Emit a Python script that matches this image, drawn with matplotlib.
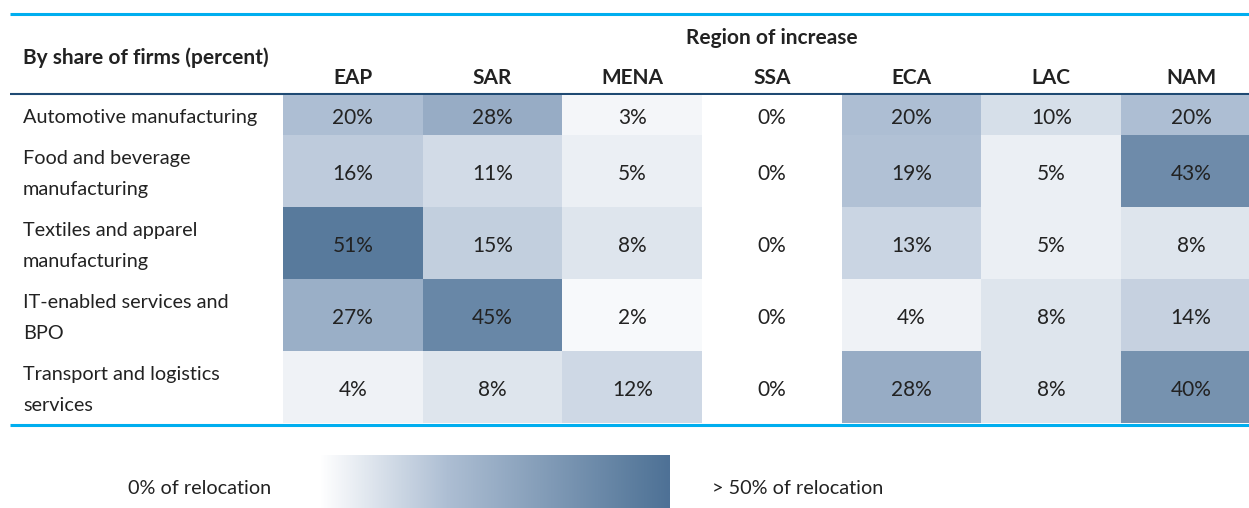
import matplotlib.pyplot as plt
import numpy as np
from matplotlib.colors import LinearSegmentedColormap

plt.rcParams['font.family'] = ['Lato', 'DejaVu Sans']

regions = ["EAP", "SAR", "MENA", "SSA", "ECA", "LAC", "NAM"]
sectors = ["Automotive manufacturing",
           "Food and beverage\nmanufacturing",
           "Textiles and apparel\nmanufacturing",
           "IT-enabled services and\nBPO",
           "Transport and logistics\nservices"]

eap = [20, 16, 51, 27, 4]
sar = [28, 11, 15, 45, 8]
mena = [3, 5, 8, 2, 12]
ssa = [0, 0, 0, 0, 0]
eca = [20, 19, 13, 4, 28]
lac = [10, 5, 5, 8, 8]
nam = [20, 43, 8, 14, 40]

vals = np.array([eap, sar, mena, ssa, eca, lac, nam]).T

vmax = 55
cmap = LinearSegmentedColormap.from_list(
    "rel", [(0, "#ffffff"), (20 / vmax, "#adbed3"),
            (51 / vmax, "#587a9c"), (1, "#4e7196")])
txt = "#222222"
W, H = 1249, 508

fig = plt.figure(figsize=(W / 100, H / 100), dpi=100)

# background axes in pixel units for rules and free text
bg = fig.add_axes([0, 0, 1, 1])
bg.set_xlim(0, W)
bg.set_ylim(H, 0)
bg.axis("off")

# heatmap axes: rows of unequal height (first row is single-line)
x0, cw = 283, 139.7
y0, y1 = 95, 423
hm = fig.add_axes([x0 / W, 1 - y1 / H, len(regions) * cw / W, (y1 - y0) / H])
row_h = np.array([40, 72, 72, 72, 72])
yedges = np.concatenate([[0], np.cumsum(row_h)])
xedges = np.arange(len(regions) + 1)
hm.pcolormesh(xedges, yedges, vals, cmap=cmap, vmin=0, vmax=vmax)
hm.set_xlim(0, len(regions))
hm.set_ylim(yedges[-1], 0)
hm.axis("off")
ycent = (yedges[:-1] + yedges[1:]) / 2
for i in range(len(sectors)):
    for j in range(len(regions)):
        hm.text(j + 0.5, ycent[i] + 3, f"{vals[i, j]}%", ha="center", va="center",
                fontsize=15, color=txt)

# row labels
for i, s in enumerate(sectors):
    bg.text(23, y0 + ycent[i] + 3, s, ha="left", va="center", fontsize=14.3,
            color=txt, linespacing=2.05)

# column headers
for j, r in enumerate(regions):
    bg.text(x0 + (j + 0.5) * cw, 78, r, ha="center", va="center",
            fontsize=15, fontweight="bold", color=txt)
bg.text(x0 + len(regions) * cw / 2, 38, "Region of increase", ha="center",
        va="center", fontsize=15, fontweight="bold", color=txt)
bg.text(23, 58, "By share of firms (percent)", ha="left", va="center",
        fontsize=15, fontweight="bold", color=txt)

# rules
bg.plot([10, W], [14, 14], color="#00aeef", lw=2.2, solid_capstyle="butt")
bg.plot([10, W], [94, 94], color="#1f4a73", lw=1.5, solid_capstyle="butt")
bg.plot([10, W], [424.5, 424.5], color="#00aeef", lw=2.2, solid_capstyle="butt")

# legend gradient
cb = fig.add_axes([320 / W, 0, 350 / W, 53 / H])
cb.imshow(np.linspace(0, vmax, 256)[None, :], aspect="auto", cmap=cmap,
          vmin=0, vmax=vmax)
cb.axis("off")
bg.text(271, 489, "0% of relocation", ha="right", va="center", fontsize=14.3, color=txt)
bg.text(712, 489, "> 50% of relocation", ha="left", va="center", fontsize=14.3, color=txt)

fig.savefig("out.png", dpi=100)
